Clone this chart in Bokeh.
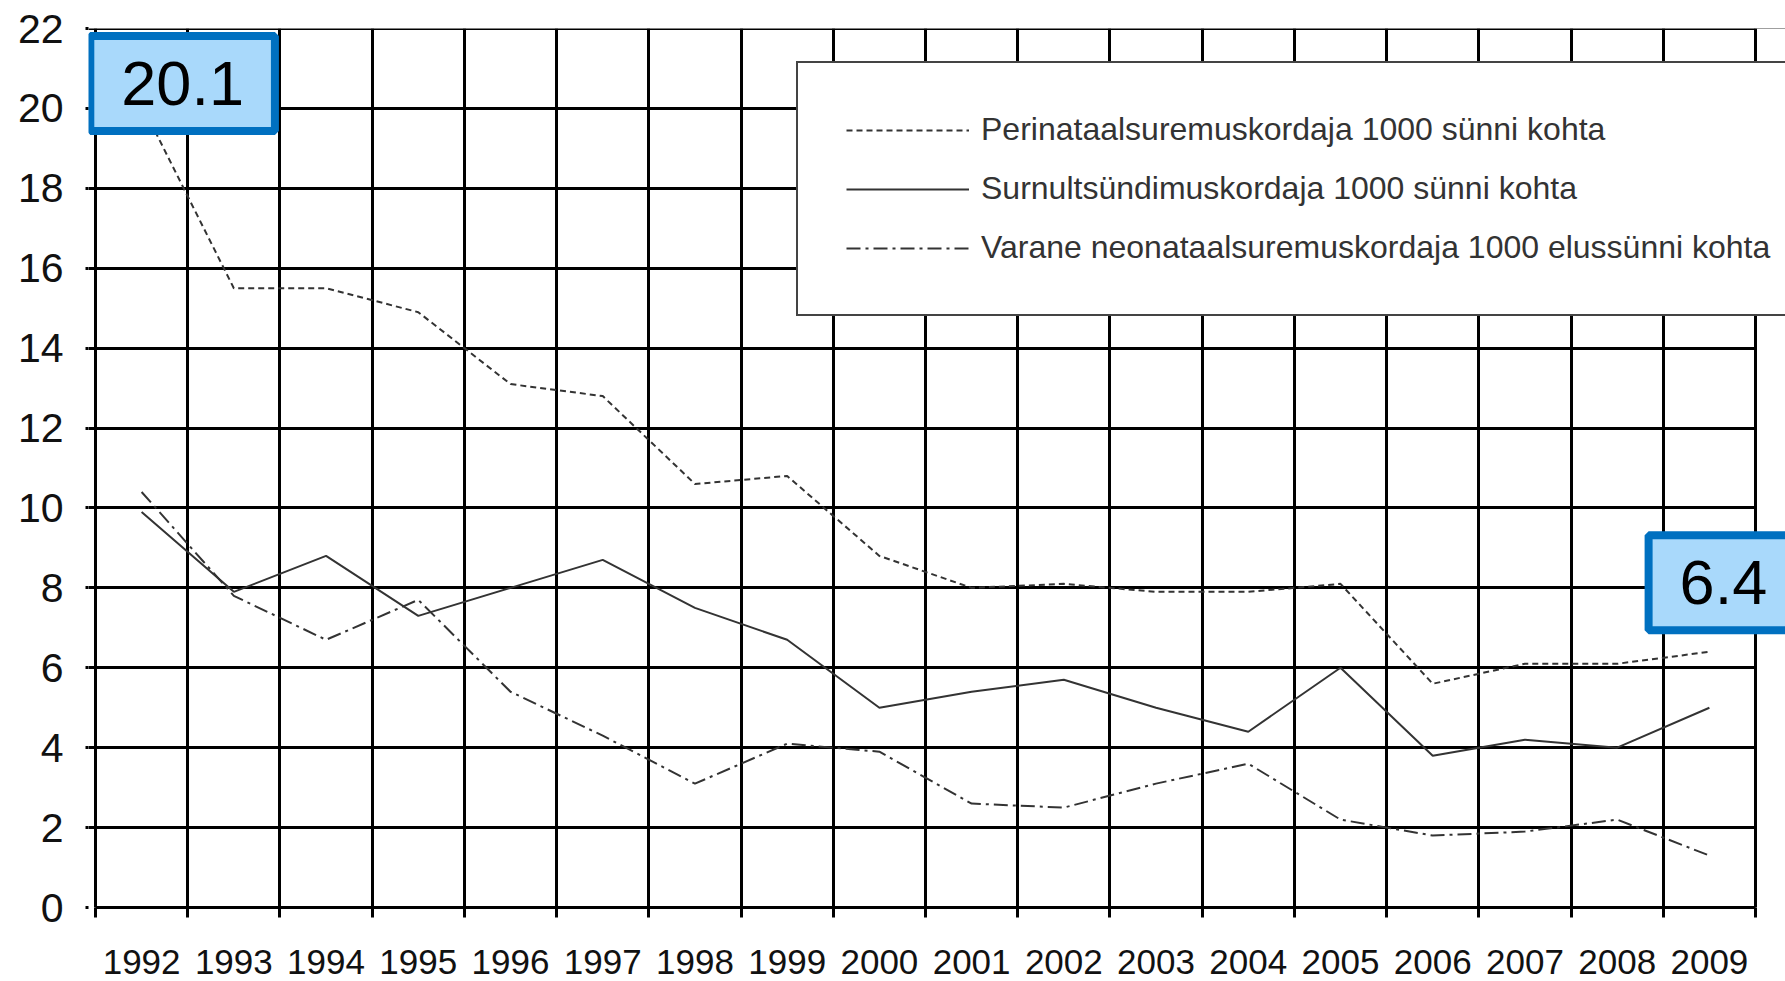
from bokeh.plotting import figure
from bokeh.models import (Range1d, FixedTicker, Legend, LegendItem, Label,
                          BoxAnnotation)
from bokeh.embed import file_html
from bokeh.resources import INLINE

# ---- data ----
years = ["1992", "1993", "1994", "1995", "1996", "1997", "1998", "1999", "2000",
         "2001", "2002", "2003", "2004", "2005", "2006", "2007", "2008", "2009"]
perinatal = [20.1, 15.5, 15.5, 14.9, 13.1, 12.8, 10.6, 10.8, 8.8,
             8.0, 8.1, 7.9, 7.9, 8.1, 5.6, 6.1, 6.1, 6.4]
stillbirth = [9.9, 7.9, 8.8, 7.3, 8.0, 8.7, 7.5, 6.7, 5.0,
              5.4, 5.7, 5.0, 4.4, 6.0, 3.8, 4.2, 4.0, 5.0]
neonatal = [10.4, 7.8, 6.7, 7.7, 5.4, 4.3, 3.1, 4.1, 3.9,
            2.6, 2.5, 3.1, 3.6, 2.2, 1.8, 1.9, 2.2, 1.3]
y_ticks = [0, 2, 4, 6, 8, 10, 12, 14, 16, 18, 20, 22]
series_labels = [
    "Perinataalsuremuskordaja 1000 sünni kohta",
    "Surnultsündimuskordaja 1000 sünni kohta",
    "Varane neonataalsuremuskordaja 1000 elussünni kohta",
]

n = len(years)
xs = [i + 0.5 for i in range(n)]      # category centres
bounds = list(range(n + 1))            # category boundaries

# frame extends a little left of the grid (tick overhang) and to the right page
# edge so the legend / call-outs can overhang the grid like in the original
FRAME_LEFT, GRID_LEFT, GRID_RIGHT, PAGE_W = 88, 95, 1755, 1785
cat_px = (GRID_RIGHT - GRID_LEFT) / n
x_start = -(GRID_LEFT - FRAME_LEFT) / cat_px
x_end = (PAGE_W - GRID_LEFT) / cat_px

p = figure(width=1785, height=981, output_backend="svg", toolbar_location=None,
           x_range=Range1d(x_start, x_end), y_range=Range1d(0, 22.0001),
           min_border_left=FRAME_LEFT, min_border_right=0, min_border_top=28,
           min_border_bottom=74)
p.background_fill_color = "white"
p.border_fill_color = "white"
p.outline_line_color = None

# grids
xg = p.xgrid[0]
yg = p.ygrid[0]
xg.ticker = FixedTicker(ticks=bounds)
yg.ticker = FixedTicker(ticks=y_ticks)
for g in (xg, yg):
    g.grid_line_color = "black"
    g.grid_line_width = 3
    g.grid_line_alpha = 1

# white area right of the last category (hides horizontal grid overhang)
cover = BoxAnnotation(left=n, fill_color="white", fill_alpha=1, line_color=None,
                      level="underlay")
p.center = [yg, cover, xg]

# x axis
xa = p.xaxis[0]
xa.bounds = (0, n)
xa.ticker = FixedTicker(ticks=xs, minor_ticks=bounds)
xa.major_label_overrides = {x: y for x, y in zip(xs, years)}
xa.major_tick_line_color = None
xa.major_tick_out = 0
xa.major_tick_in = 0
xa.minor_tick_line_color = "black"
xa.minor_tick_line_width = 3
xa.minor_tick_out = 10
xa.minor_tick_in = 0
xa.axis_line_color = "black"
xa.axis_line_width = 3
xa.major_label_text_font = "Liberation Sans"
xa.major_label_text_font_size = "35px"
xa.major_label_text_color = "#111111"
xa.major_label_standoff = 32

# y axis
ya = p.yaxis[0]
ya.ticker = FixedTicker(ticks=y_ticks)
ya.major_tick_line_color = "black"
ya.major_tick_line_width = 3
ya.major_tick_out = 3
ya.major_tick_in = 0
ya.minor_tick_line_color = None
ya.axis_line_color = None
ya.major_label_text_font = "Liberation Sans"
ya.major_label_text_font_size = "41px"
ya.major_label_text_color = "#111111"
ya.major_label_standoff = 22

# series
r1 = p.line(xs, perinatal, line_color="#333333", line_width=2, line_dash="6 4")
r2 = p.line(xs, stillbirth, line_color="#333333", line_width=2)
r3 = p.line(xs, neonatal, line_color="#333333", line_width=2, line_dash="14 5 3 5")

legend = Legend(
    items=[LegendItem(label=series_labels[0], renderers=[r1]),
           LegendItem(label=series_labels[1], renderers=[r2]),
           LegendItem(label=series_labels[2], renderers=[r3])],
    location=(708, 591), glyph_width=123, glyph_height=36, label_height=36,
    label_standoff=12, spacing=22, padding=48,
    border_line_color="#444444", border_line_width=2, border_line_alpha=1,
    background_fill_color="white", background_fill_alpha=1,
    label_text_font="Liberation Sans", label_text_font_size="32px",
    label_text_color="#333333",
)
p.add_layout(legend)

# value call-outs
box_style = dict(text_font="Liberation Sans", text_font_size="63px", text_color="black",
                 text_align="center", text_baseline="middle",
                 background_fill_color="#A9D9FB", background_fill_alpha=1,
                 border_line_color="#0070C0", border_line_width=8, border_line_alpha=1,
                 padding=dict(left=31, right=31, top=26, bottom=26))
p.add_layout(Label(x=xs[0], y=perinatal[0], text=f"{perinatal[0]:.1f}",
                   x_offset=41, y_offset=21, **box_style))
p.add_layout(Label(x=xs[-1], y=perinatal[-1], text=f"{perinatal[-1]:.1f}",
                   x_offset=14, y_offset=69, **box_style))

open("out.html", "w").write(file_html(p, INLINE))
